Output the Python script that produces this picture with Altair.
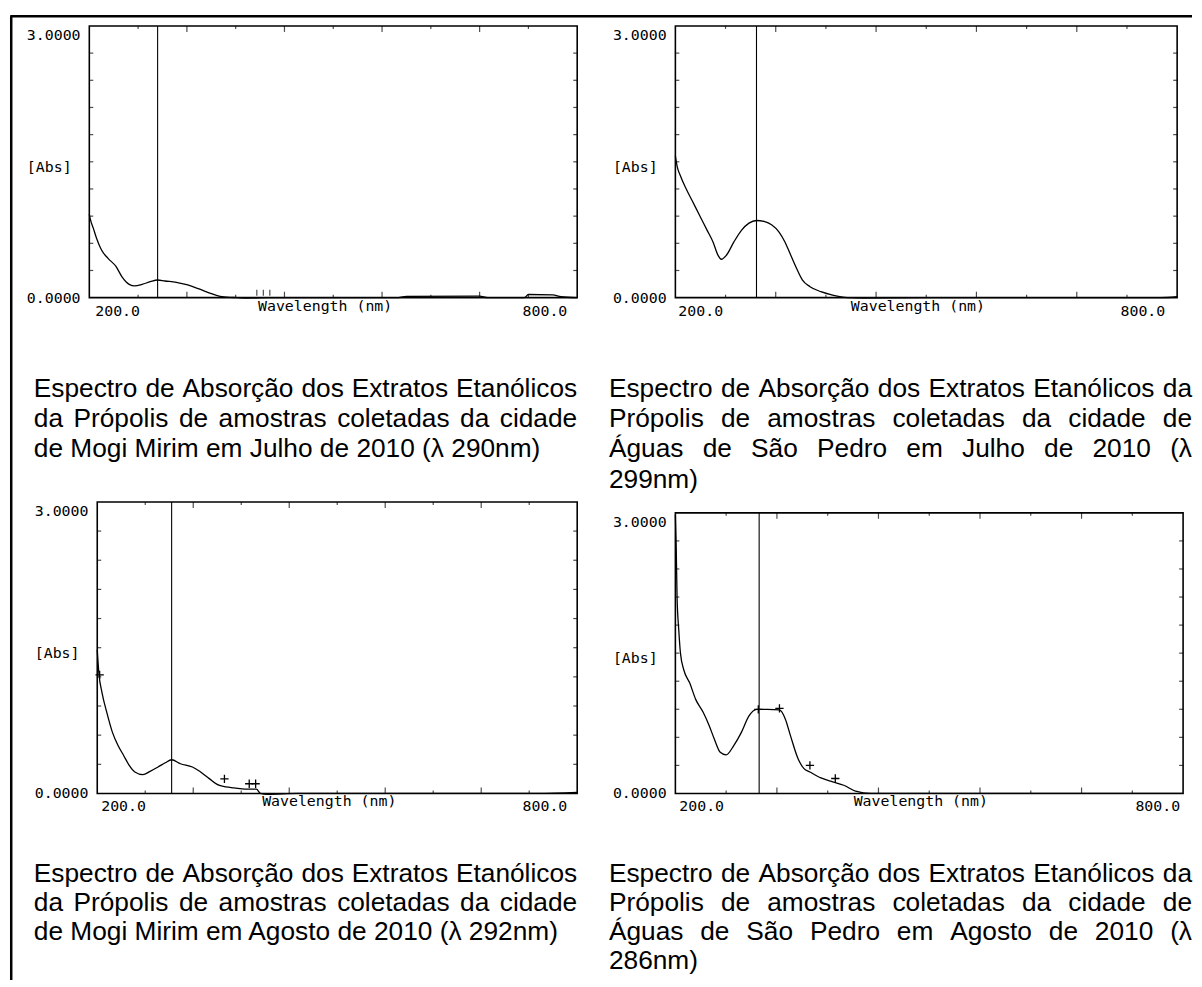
import altair as alt
import pandas as pd

# ---------------- values ----------------
wl1 = [200, 201, 205, 209, 215, 223, 233, 240, 249, 256, 265, 275, 284, 293, 307, 321, 335, 349, 363,
       382, 396, 420, 450, 500, 580, 590, 680, 690, 735, 740, 770, 780, 800]
ab1 = [0.92, 0.875, 0.765, 0.654, 0.526, 0.434, 0.342, 0.232, 0.147, 0.129, 0.147, 0.176, 0.195, 0.184,
       0.169, 0.140, 0.096, 0.048, 0.011, 0.0, -0.005, 0.0, 0.0, 0.0, 0.0, 0.015, 0.018, 0.0, 0.0, 0.035,
       0.03, 0.01, 0.0]

wl2 = [200, 202, 206, 213, 220, 229, 238, 245, 251, 255, 261, 270, 279, 288, 297, 306, 315, 324, 331,
       338, 345, 352, 361, 374, 388, 406, 424, 500, 600, 700, 780, 800]
ab2 = [1.566, 1.456, 1.346, 1.2, 1.072, 0.907, 0.743, 0.615, 0.468, 0.424, 0.468, 0.615, 0.743, 0.823,
       0.852, 0.841, 0.805, 0.724, 0.615, 0.468, 0.322, 0.194, 0.121, 0.066, 0.029, 0.0, -0.005, 0.0,
       0.0, 0.0, 0.0, 0.01]

wl3 = [200, 202, 206, 212, 219, 226, 233, 240, 247, 257, 266, 276, 285, 293, 304, 319, 328, 340, 352,
       361, 371, 385, 399, 404, 413, 450, 550, 650, 750, 800]
ab3 = [1.478, 1.24, 1.036, 0.832, 0.629, 0.493, 0.391, 0.289, 0.221, 0.194, 0.228, 0.272, 0.316, 0.347,
       0.306, 0.272, 0.228, 0.153, 0.085, 0.068, 0.058, 0.044, 0.044, 0.0, -0.01, 0.0, 0.0, 0.0, 0.0, 0.01]

wl4 = [200, 201, 202, 204, 206, 210, 217, 224, 233, 240, 246, 253, 260, 269, 278, 287, 296, 309, 323,
       330, 336, 345, 352, 359, 372, 386, 399, 413, 431, 500, 600, 700, 800]
ab4 = [2.98, 2.63, 2.10, 1.75, 1.50, 1.32, 1.18, 1.006, 0.865, 0.724, 0.582, 0.441, 0.413, 0.512, 0.653,
       0.829, 0.9, 0.9, 0.893, 0.794, 0.618, 0.371, 0.265, 0.229, 0.166, 0.124, 0.088, 0.025, 0.0, 0.0,
       0.0, 0.0, 0.0]

# vertical cursor line of each printout (nm, as drawn)
cursor_nm = [284, 297, 293, 299]

# peak-pick markers
mark_nm = [[], [], [203, 359, 390, 398], [298, 323, 359, 389]]
mark_ab = [[], [], [1.22, 0.15, 0.10, 0.10], [0.90, 0.91, 0.30, 0.16]]
bar_nm = [[406, 414, 422], [], [], []]

x_ticks_long = [320, 440, 560, 680]
x_ticks_short = [260, 380, 500, 620, 740]
y_ticks = [0.3, 0.6, 0.9, 1.2, 1.5, 1.8, 2.1, 2.4, 2.7]
y_tick_labels = ["0.0000", "3.0000"]
x_tick_labels = ["200.0", "800.0"]
x_title = "Wavelength (nm)"
y_title = "[Abs]"

cap1 = ["Espectro de Absorção dos Extratos Etanólicos",
        "da Própolis de amostras coletadas da cidade",
        "de Mogi Mirim em Julho de 2010 (λ 290nm)"]
cap2 = ["Espectro de Absorção dos Extratos Etanólicos da",
        "Própolis de amostras coletadas da cidade de",
        "Águas de São Pedro em Julho de 2010 (λ",
        "299nm)"]
cap3 = ["Espectro de Absorção dos Extratos Etanólicos",
        "da Própolis de amostras coletadas da cidade",
        "de Mogi Mirim em Agosto de 2010 (λ 292nm)"]
cap4 = ["Espectro de Absorção dos Extratos Etanólicos da",
        "Própolis de amostras coletadas da cidade de",
        "Águas de São Pedro em Agosto de 2010 (λ",
        "286nm)"]

WL = [wl1, wl2, wl3, wl4]
AB = [ab1, ab2, ab3, ab4]
CAPS = [cap1, cap2, cap3, cap4]

# ---------------- layout (page pixels) ----------------
PANELS = [
    dict(gl=88, gt=21, w=492, h=274, x0=200.0, x1=800.0, ymax=3.0),
    dict(gl=679, gt=21, w=512, h=274, x0=200.0, x1=800.0 + 6 * 600 / 506, ymax=3.0),
    dict(gl=88, gt=501, w=492, h=294, x0=200.0 - 8 * 600 / 484, x1=800.0, ymax=3.0),
    dict(gl=679, gt=501, w=512, h=294, x0=200.0, x1=800.0, ymax=3.0 * 294 / 283),
]
LAB200_DX = [6, 3, 4, 4]
LAB800_DX = [-10, -12, -10, -3]
CAP_COLS = [(32, 580), (612, 1200), (32, 580), (612, 1200)]
TOP_FIRST, TOP_LH = 395, 30.5
BOT_FIRST, BOT_LH = 884, 29.3
CAP_BASE = [[TOP_FIRST + k * TOP_LH for k in range(len(CAPS[0]))],
            [TOP_FIRST + k * TOP_LH for k in range(len(CAPS[1]))],
            [BOT_FIRST + k * BOT_LH for k in range(len(CAPS[2]))],
            [BOT_FIRST + k * BOT_LH for k in range(len(CAPS[3]))]]

CAP_FONT = "Liberation Sans"
FS = 26.5
AW = {' ': 278, 'a': 556, 'b': 556, 'c': 500, 'd': 556, 'e': 556, 'f': 278, 'g': 556, 'h': 556,
      'i': 222, 'j': 222, 'k': 500, 'l': 222, 'm': 833, 'n': 556, 'o': 556, 'p': 556, 'q': 556,
      'r': 333, 's': 500, 't': 278, 'u': 556, 'v': 500, 'w': 722, 'x': 500, 'y': 500, 'z': 500,
      'ç': 500, 'ã': 556, 'ó': 556, 'á': 556, 'A': 667, 'E': 667, 'P': 667, 'M': 833, 'J': 500,
      'S': 667, 'Á': 667, 'G': 778, '(': 333, ')': 333, 'λ': 500}


def tw(s):
    return sum(AW.get(ch, 556) for ch in s) / 1000.0 * FS


def layout_caption(lines, left, right, baselines):
    """Justified lines are placed word by word; the closing line is one text."""
    rows = []
    for i, (line, by) in enumerate(zip(lines, baselines)):
        words = line.split(" ")
        if i == len(lines) - 1 or len(words) == 1:
            rows.append({"px": left, "py": by, "word": line})
            continue
        widths = [tw(w) for w in words]
        gap = (right - left - sum(widths)) / (len(words) - 1)
        x = left
        for w, wd in zip(words, widths):
            rows.append({"px": x, "py": by, "word": w})
            x += wd + gap
    return rows


ONE = pd.DataFrame({"d": [0]})
CROSS = "M-1,0L1,0M0,-1L0,1"


def panel(i):
    P = PANELS[i]
    sx = alt.Scale(domain=[P["x0"], P["x1"]], nice=False, zero=False)
    sy = alt.Scale(domain=[0, P["ymax"]], nice=False, zero=False)

    def XD(v):
        return alt.XDatum(v, scale=sx, axis=None)

    def YD(v):
        return alt.YDatum(v, scale=sy, axis=None)

    base = alt.Chart(ONE)
    layers = []
    layers.append(base.mark_rect(filled=False, stroke="black", strokeWidth=1.6).encode(
        x=XD(200), x2=alt.X2Datum(800), y=YD(0), y2=alt.Y2Datum(3)))

    for vals, size in ((x_ticks_long, 6), (x_ticks_short, 3)):
        td = alt.Chart(pd.DataFrame({"t": vals}))
        for yv, off in ((3, size / 2), (0, -size / 2)):
            layers.append(td.mark_tick(orient="vertical", size=size, thickness=1.2, yOffset=off,
                                       color="black").encode(
                x=alt.X("t:Q", scale=sx, axis=None), y=YD(yv)))
    yd = alt.Chart(pd.DataFrame({"t": y_ticks}))
    for xv, off in ((200, 2), (800, -2)):
        layers.append(yd.mark_tick(orient="horizontal", size=4, thickness=1.2, xOffset=off,
                                   color="black").encode(
            y=alt.Y("t:Q", scale=sy, axis=None), x=XD(xv)))

    spec = pd.DataFrame({"nm": WL[i], "abs": AB[i]})
    layers.append(alt.Chart(spec).mark_line(color="black", strokeWidth=1.3,
                                            interpolate="monotone").encode(
        x=alt.X("nm:Q", scale=sx, axis=None), y=alt.Y("abs:Q", scale=sy, axis=None)))

    layers.append(base.mark_rule(color="black", strokeWidth=1.1).encode(
        x=XD(cursor_nm[i]), y=YD(0), y2=alt.Y2Datum(3)))

    if mark_nm[i]:
        md = pd.DataFrame({"nm": mark_nm[i], "abs": mark_ab[i]})
        layers.append(alt.Chart(md).mark_point(shape=CROSS, filled=False, size=70, strokeWidth=1.3,
                                               color="black", opacity=1).encode(
            x=alt.X("nm:Q", scale=sx, axis=None), y=alt.Y("abs:Q", scale=sy, axis=None)))
    if bar_nm[i]:
        bd = alt.Chart(pd.DataFrame({"t": bar_nm[i]}))
        layers.append(bd.mark_tick(orient="vertical", size=6, thickness=1.2, yOffset=-5,
                                   color="black").encode(
            x=alt.X("t:Q", scale=sx, axis=None), y=YD(0)))

    def lab(text, xd, yv, align, baseline, dx, dy):
        return base.mark_text(text=text, align=align, baseline=baseline, dx=dx, dy=dy,
                              font="DejaVu Sans Mono", fontSize=15, color="black").encode(
            x=XD(xd), y=YD(yv))

    layers.append(lab(y_tick_labels[1], 200, 3, "left", "middle", -63, 9))
    layers.append(lab(y_tick_labels[0], 200, 0, "left", "middle", -63, 0))
    layers.append(lab(y_title, 200, 1.5, "left", "middle", -63, 5))
    layers.append(lab(x_tick_labels[0], 200, 0, "left", "middle", LAB200_DX[i], 13))
    layers.append(lab(x_tick_labels[1], 800, 0, "right", "middle", LAB800_DX[i], 13))
    layers.append(lab(x_title, 490, 0, "center", "middle", 0, 8))

    left, right = CAP_COLS[i]
    cd = pd.DataFrame(layout_caption(CAPS[i], left, right, CAP_BASE[i]))
    cd["xd"] = P["x0"] + (cd["px"] - P["gl"]) / P["w"] * (P["x1"] - P["x0"])
    cd["yd"] = P["ymax"] - (cd["py"] - P["gt"]) / P["h"] * P["ymax"]
    layers.append(alt.Chart(cd).mark_text(align="left", baseline="alphabetic", font=CAP_FONT,
                                          fontSize=FS, color="black").encode(
        x=alt.X("xd:Q", scale=sx, axis=None), y=alt.Y("yd:Q", scale=sy, axis=None),
        text="word:N"))

    if i == 0:
        # page frame lines of the scanned document
        top_y = 11.25 - P["gt"]
        left_x = 9.25 - P["gl"]
        layers.append(base.mark_rule(color="black", strokeWidth=2.5).encode(
            x=alt.value(left_x - 1), x2=alt.value(1200 - P["gl"]), y=alt.value(top_y)))
        layers.append(base.mark_rule(color="black", strokeWidth=2.5).encode(
            x=alt.value(left_x), y=alt.value(top_y), y2=alt.value(990 - P["gt"])))

    return alt.layer(*layers).properties(width=P["w"], height=P["h"])


chart = alt.concat(
    panel(0), panel(1), panel(2), panel(3),
    columns=2,
    spacing={"row": 206, "column": 99},
    align="each",
    bounds="flush",
).properties(
    padding={"left": 0, "top": 2, "right": 0, "bottom": -13},
    background="white",
).configure_view(stroke="transparent")

chart.save("out.html", embed_options={"renderer": "svg", "actions": False})
